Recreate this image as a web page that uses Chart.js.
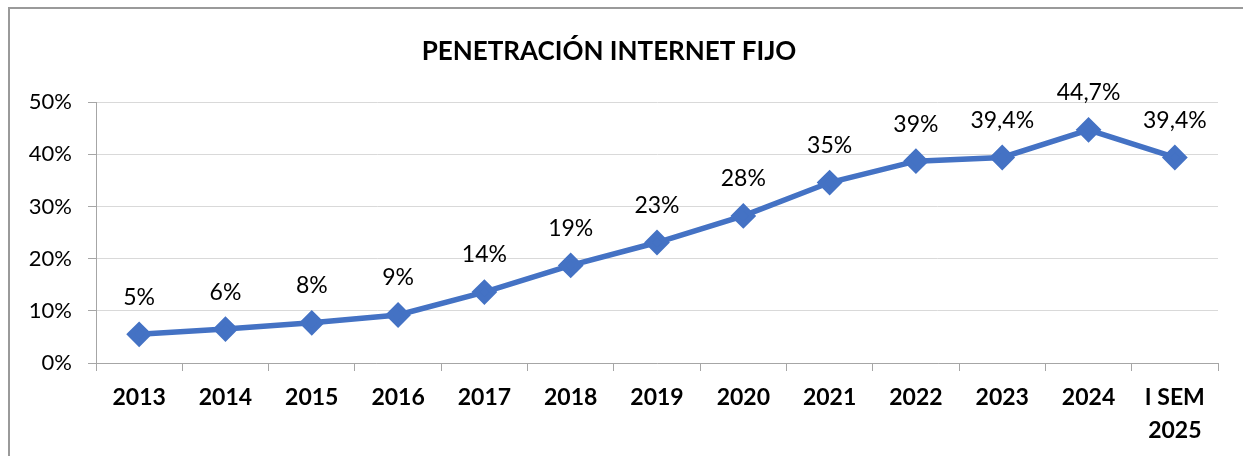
<!DOCTYPE html>
<html>
<head>
<meta charset="utf-8">
<script src="https://cdn.jsdelivr.net/npm/chart.js@4.4.1/dist/chart.umd.min.js"></script>
<style>
  html, body { margin: 0; padding: 0; background: #fff; }
  #frame {
    position: absolute; left: 8px; top: 7px; width: 1300px; height: 500px;
    border-left: 2px solid #9a9a9a; border-top: 2px solid #9a9a9a;
  }
  #wrap { position: absolute; left: 0; top: 0; width: 1243px; height: 456px; }
</style>
</head>
<body>
<div id="frame"></div>
<div id="wrap"><canvas id="myChart"></canvas></div>
<script>
// datos del grafico
const years = ["2013", "2014", "2015", "2016", "2017", "2018", "2019", "2020", "2021", "2022", "2023", "2024", ["I SEM", "2025"]];
const penetracion = [5.5, 6.5, 7.7, 9.2, 13.6, 18.7, 23.1, 28.2, 34.6, 38.7, 39.4, 44.7, 39.4];
const etiquetas = ["5%", "6%", "8%", "9%", "14%", "19%", "23%", "28%", "35%", "39%", "39,4%", "44,7%", "39,4%"];
const yTicks = [0, 10, 20, 30, 40, 50];

const fontName = "Lato, 'Open Sans', sans-serif";

// etiquetas encima de cada punto
const dataLabels = {
  id: "dataLabels",
  afterDatasetsDraw(chart) {
    const ctx = chart.ctx;
    const meta = chart.getDatasetMeta(0);
    ctx.save();
    ctx.font = "23px " + fontName;
    ctx.fillStyle = "#000";
    ctx.textAlign = "center";
    ctx.textBaseline = "middle";
    meta.data.forEach((pt, i) => {
      ctx.fillText(etiquetas[i], pt.x, pt.y - 37);
    });
    ctx.restore();
  }
};

const ctx = document.getElementById("myChart").getContext("2d");
new Chart(ctx, {
  type: "line",
  data: {
    labels: years,
    datasets: [
      {
        label: "Penetración",
        data: penetracion,
        borderColor: "#4472C4",
        backgroundColor: "#4472C4",
        borderWidth: 5.5,
        pointStyle: "rectRot",
        pointRadius: 9,
        pointHoverRadius: 9,
        tension: 0,
      },
    ],
  },
  options: {
    responsive: true,
    maintainAspectRatio: false,
    animation: false,
    layout: { padding: { left: 0, right: 25, top: 0, bottom: 0 } },
    plugins: {
      legend: { display: false },
      tooltip: { enabled: false },
      title: {
        display: true,
        text: "PENETRACIÓN INTERNET FIJO",
        color: "#000",
        font: { family: fontName, size: 26, weight: "bold" },
        padding: { top: 36, bottom: 35 },
      },
    },
    scales: {
      x: {
        offset: true,
        grid: { offset: true, drawOnChartArea: false, drawTicks: true, tickLength: 8, color: "#a6a6a6" },
        border: { color: "#a6a6a6" },
        ticks: {
          color: "#000",
          font: { family: fontName, size: 23, weight: "bold", lineHeight: 1.43 },
          maxRotation: 0,
          autoSkip: false,
          padding: 10,
        },
        afterFit(scale) { scale.height = 93; },
      },
      y: {
        min: 0,
        max: 50,
        afterBuildTicks(scale) { scale.ticks = yTicks.map(v => ({ value: v })); },
        grid: { color: "#d9d9d9", tickLength: 8, tickColor: "#a6a6a6" },
        border: { color: "#a6a6a6" },
        ticks: {
          color: "#000",
          font: { family: fontName, size: 22 },
          padding: 16,
          callback: v => v + "%",
        },
        afterFit(scale) { scale.width = 96; },
      },
    },
  },
  plugins: [dataLabels],
});
</script>
</body>
</html>
